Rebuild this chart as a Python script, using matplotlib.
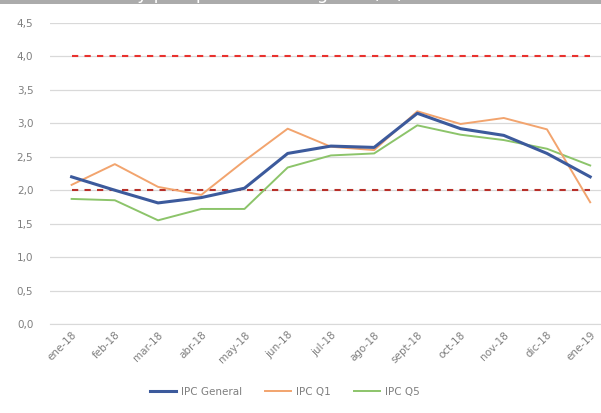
import matplotlib.pyplot as plt
from matplotlib.patches import Rectangle

# datos
meses = ['ene-18', 'feb-18', 'mar-18', 'abr-18', 'may-18', 'jun-18', 'jul-18',
         'ago-18', 'sept-18', 'oct-18', 'nov-18', 'dic-18', 'ene-19']
ipc_general = [2.20, 2.00, 1.81, 1.89, 2.03, 2.55, 2.66, 2.64, 3.15, 2.92, 2.82, 2.55, 2.20]
ipc_q1 = [2.08, 2.39, 2.05, 1.93, 2.44, 2.92, 2.65, 2.60, 3.18, 2.99, 3.08, 2.91, 1.82]
ipc_q5 = [1.87, 1.85, 1.55, 1.72, 1.72, 2.34, 2.52, 2.55, 2.97, 2.83, 2.75, 2.62, 2.37]
meta_sup = 4.0
meta_inf = 2.0
yticks = [0.0, 0.5, 1.0, 1.5, 2.0, 2.5, 3.0, 3.5, 4.0, 4.5]

W, H = 601, 413
fig = plt.figure(figsize=(W / 100, H / 100), dpi=100)
ax = fig.add_axes([50 / W, 89 / H, (W - 50) / W, 301 / H])

x = list(range(len(meses)))

# bandas meta
ax.plot(x, [meta_sup] * len(x), color='#e8322e', linestyle=(0, (3, 3)), linewidth=1.5, zorder=2)
ax.plot(x, [meta_inf] * len(x), color='#b8302a', linestyle=(0, (3, 3)), linewidth=1.5, zorder=2)

ax.plot(x, ipc_q5, color='#8cc46a', linewidth=1.4, label='IPC Q5', zorder=3)
ax.plot(x, ipc_q1, color='#f2a46e', linewidth=1.4, label='IPC Q1', zorder=4)
ax.plot(x, ipc_general, color='#3c5a9c', linewidth=2.2, label='IPC General', zorder=5)

ax.set_xlim(-0.5, 12.25)
ax.set_ylim(0, 4.5)
ax.set_yticks(yticks)
ax.set_yticklabels([f'{v:.1f}'.replace('.', ',') for v in yticks])
ax.set_xticks(x)
ax.set_xticklabels(meses, rotation=45, ha='right', rotation_mode='anchor')

ax.grid(axis='y', color='#d9d9d9', linewidth=0.9)
ax.set_axisbelow(True)
for s in ['top', 'right', 'left']:
    ax.spines[s].set_visible(False)
ax.spines['bottom'].set_color('#d9d9d9')
ax.tick_params(axis='both', length=0, colors='#7f7f7f', labelsize=7.5)
ax.tick_params(axis='y', pad=12)
ax.tick_params(axis='x', pad=4)

# leyenda
handles, labels = ax.get_legend_handles_labels()
orden = [2, 1, 0]
fig.legend([handles[i] for i in orden], [labels[i] for i in orden],
           loc='center', bbox_to_anchor=(285 / W, 1 - 392 / H), ncol=3,
           frameon=False, fontsize=7.5, labelcolor='#7f7f7f',
           handlelength=2.5, handletextpad=0.5, columnspacing=2.2)

# barra de titulo recortada arriba
fig.patches.append(Rectangle((0, 1 - 3.5 / H), 1, 3.5 / H, transform=fig.transFigure,
                             facecolor='#ababab', edgecolor='none'))
fig.text(8 / W, 1 + 1 / H, 'Inflación total y por quintiles de ingreso (%)',
         color='white', fontsize=13, va='baseline', ha='left')

fig.savefig('out.png', dpi=100)
